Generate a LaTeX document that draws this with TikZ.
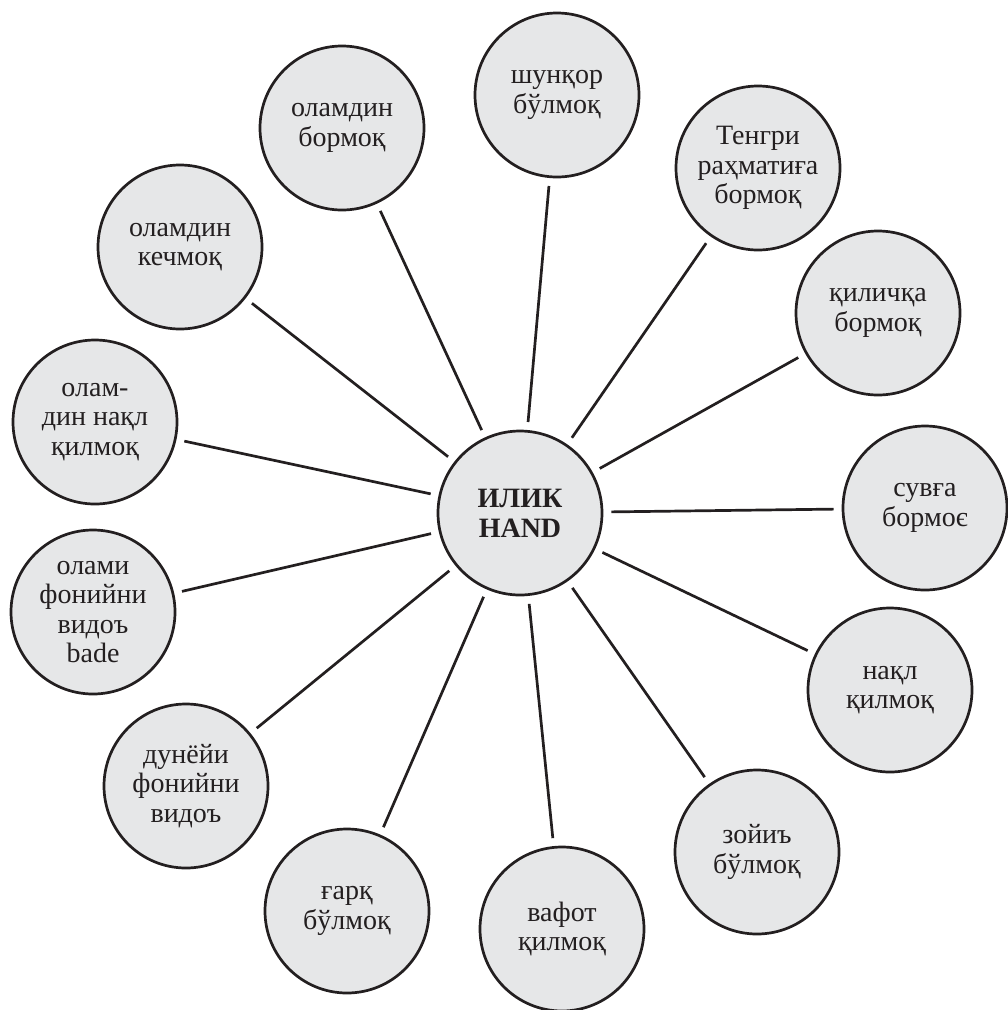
\documentclass[tikz,border=0pt]{standalone}
\usepackage{fontspec}
\setmainfont{Liberation Serif}
\definecolor{ink}{HTML}{231F20}
\definecolor{disc}{HTML}{E6E7E8}
\begin{document}
\begin{tikzpicture}[x=1pt,y=-1pt,
  bubble/.style={circle,draw=ink,line width=2.7pt,fill=disc,minimum size=164pt,inner sep=0pt,align=center,
    font=\fontsize{28}{29.5}\selectfont,text=ink},
  hub/.style={bubble,font=\fontsize{28}{30}\selectfont\bfseries},
  conn/.style={draw=ink,line width=2.7pt,shorten <=8pt,shorten >=8pt}]
\useasboundingbox (0,0) rectangle (1008,1010);
\node[hub] (c) at (520,513) {ИЛИК\\HAND};
\node[bubble] (n1) at (557,95) {шунқор\\бўлмоқ};
\node[bubble] (n2) at (342,128) {оламдин\\бормоқ};
\node[bubble] (n3) at (758,168) {Тенгри\\раҳматиға\\бормоқ};
\node[bubble] (n4) at (180,247) {оламдин\\кечмоқ};
\node[bubble] (n5) at (878,313) {қиличқа\\бормоқ};
\node[bubble] (n6) at (95,422) {олам-\\дин нақл\\қилмоқ};
\node[bubble] (n7) at (925,508) {сувға\\бормоє};
\node[bubble] (n8) at (93,612) {олами\\фонийни\\видоъ\\bade};
\node[bubble] (n9) at (890,690) {нақл\\қилмоқ};
\node[bubble] (n10) at (186,786) {дунёйи\\фонийни\\видоъ};
\node[bubble] (n11) at (757,852) {зойиъ\\бўлмоқ};
\node[bubble] (n12) at (347,911) {ғарқ\\бўлмоқ};
\node[bubble] (n13) at (562,929) {вафот\\қилмоқ};
\foreach \n in {n1,n2,n3,n4,n5,n6,n7,n8,n9,n10,n11,n12,n13}
  \draw[conn] (c) -- (\n);
\end{tikzpicture}
\end{document}
